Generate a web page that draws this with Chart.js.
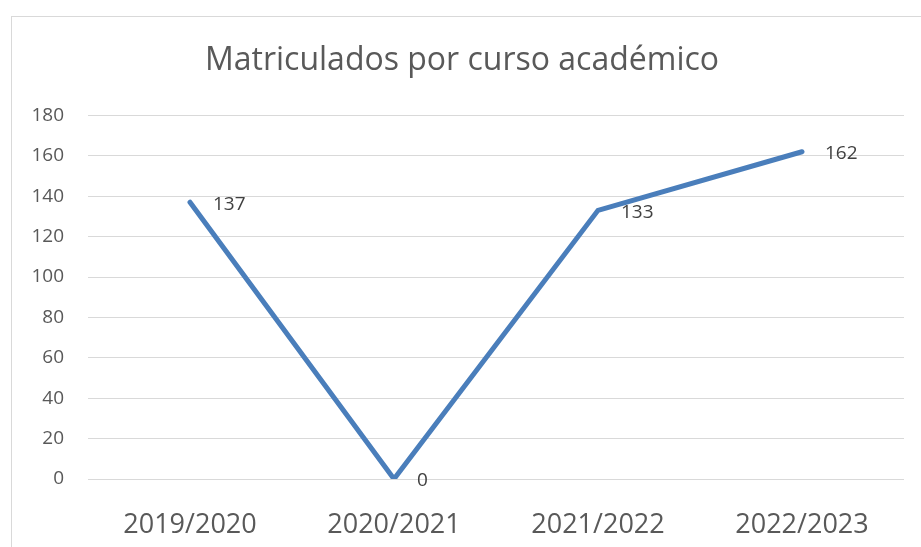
<!DOCTYPE html>
<html>
<head>
<meta charset="utf-8">
<script src="https://cdn.jsdelivr.net/npm/chart.js@4"></script>
<style>
  html, body { margin: 0; padding: 0; background: #fff; overflow: hidden; }
  #wrap { position: relative; width: 921px; height: 547px; }
  #frame { position: absolute; left: 11px; top: 16px; width: 930px; height: 560px; border: 1px solid #d9d9d9; box-sizing: border-box; }
  canvas { position: absolute; left: 0; top: 0; }
</style>
</head>
<body>
<div id="wrap">
  <div id="frame"></div>
  <canvas id="chart" width="921" height="547"></canvas>
</div>
<script>
// Chart data
const courses = ["2019/2020", "2020/2021", "2021/2022", "2022/2023"];
const enrolled = [137, 0, 133, 162];
const yTicks = [0, 20, 40, 60, 80, 100, 120, 140, 160, 180];

const FONT = "'Open Sans', 'Liberation Sans', sans-serif";

// simple value labels drawn to the right of each point
const valueLabels = {
    id: "valueLabels",
    afterDatasetsDraw(chart) {
        const ctx = chart.ctx;
        const meta = chart.getDatasetMeta(0);
        ctx.save();
        ctx.font = "19px " + FONT;
        ctx.fillStyle = "#404040";
        ctx.textAlign = "left";
        ctx.textBaseline = "middle";
        meta.data.forEach((pt, i) => {
            ctx.fillText(String(enrolled[i]), pt.x + 23, pt.y + 2);
        });
        ctx.restore();
    }
};

new Chart(document.getElementById("chart"), {
    type: "line",
    data: {
        labels: courses,
        datasets: [{
            data: enrolled,
            borderColor: "#4a7ebb",
            borderWidth: 5,
            pointRadius: 0,
            tension: 0,
            borderCapStyle: "round",
            borderJoinStyle: "miter"
        }]
    },
    options: {
        responsive: false,
        animation: false,
        layout: { padding: { left: 20, right: 17, top: 0, bottom: 0 } },
        plugins: {
            legend: { display: false },
            tooltip: { enabled: false },
            title: {
                display: true,
                text: "Matriculados por curso académico",
                color: "#595959",
                font: { family: FONT, size: 32, weight: "normal", lineHeight: 1.2 },
                padding: { top: 42, bottom: 35 }
            }
        },
        scales: {
            x: {
                offset: true,
                grid: { display: false },
                border: { display: false },
                ticks: { color: "#595959", font: { family: FONT, size: 27 }, padding: 22, maxRotation: 0 },
                afterFit(s) { s.height = 68; }
            },
            y: {
                min: 0,
                max: 180,
                afterBuildTicks(s) { s.ticks = yTicks.map(v => ({ value: v })); },
                grid: { color: "#d9d9d9", lineWidth: 1, drawTicks: false },
                border: { display: false },
                ticks: { color: "#595959", font: { family: FONT, size: 19 }, padding: 24 },
                afterFit(s) { s.width = 68; }
            }
        }
    },
    plugins: [valueLabels]
});
</script>
</body>
</html>
